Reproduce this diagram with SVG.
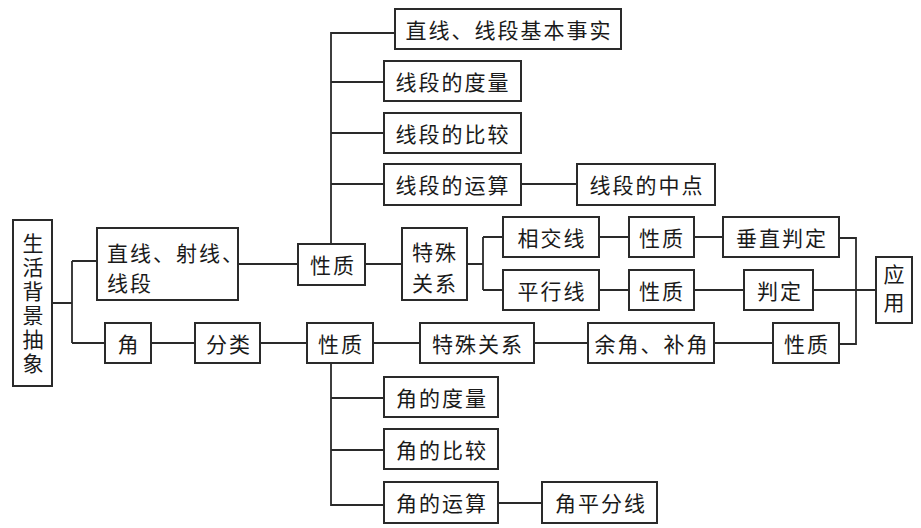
<svg xmlns="http://www.w3.org/2000/svg" width="921" height="528" viewBox="0 0 921 528">
<style>
.b{fill:#fff;stroke:#2a2a2a;stroke-width:2}
.t{font-family:"Noto Sans CJK SC","Noto Sans CJK JP",sans-serif;font-size:21px;fill:#1a1a1a;letter-spacing:2px;dominant-baseline:central;text-anchor:middle}
.tl{text-anchor:start}
.v{font-family:"Noto Sans CJK SC","Noto Sans CJK JP",sans-serif;font-size:21px;fill:#1a1a1a;writing-mode:vertical-rl;text-anchor:middle}
.c{fill:none;stroke:#2a2a2a;stroke-width:1.8}
</style>
<rect width="921" height="528" fill="#fff"/>
<g id="connectors" class="c">
<path d="M52,303H72M72,261V343M72,261H97M72,343H105"/>
<path d="M238,264H298"/>
<path d="M151,343H195M260,343H307"/>
<path d="M331,244V33H395M331,82H384M331,133H384M331,184H384"/>
<path d="M521,184H577"/>
<path d="M365,264H402M467,264H483M483,237V290M483,237H503M483,290H503"/>
<path d="M599,237H629M694,237H723M599,290H629M694,290H744M813,290H876"/>
<path d="M839,238H856V344H839"/>
<path d="M373,343H420M534,343H588M714,343H773"/>
<path d="M331,363V505H384M331,398H384M331,450H384"/>
<path d="M498,503H542"/>
</g>
<g id="n_root"><rect class="b" x="13" y="220" width="39" height="166"/>
<text class="v" x="33" y="305" style="letter-spacing:3px">生活背景抽象</text></g>
<g id="n_line"><rect class="b" x="97" y="228" width="141" height="72"/>
<text class="t tl"><tspan x="107" y="252">直线、射线、</tspan><tspan x="107" y="282">线段</tspan></text></g>
<g id="n_prop1"><rect class="b" x="298" y="244" width="67" height="41"/><text class="t" x="333" y="264">性质</text></g>
<g id="n_fact"><rect class="b" x="395" y="9" width="226" height="40"/><text class="t" x="509" y="29">直线、线段基本事实</text></g>
<g id="n_seg_measure"><rect class="b" x="384" y="61" width="137" height="40"/><text class="t" x="453" y="81">线段的度量</text></g>
<g id="n_seg_compare"><rect class="b" x="384" y="113" width="137" height="40"/><text class="t" x="453" y="133">线段的比较</text></g>
<g id="n_seg_op"><rect class="b" x="384" y="164" width="137" height="41"/><text class="t" x="453" y="184">线段的运算</text></g>
<g id="n_mid"><rect class="b" x="577" y="164" width="138" height="41"/><text class="t" x="647" y="184">线段的中点</text></g>
<g id="n_special1"><rect class="b" x="402" y="228" width="65" height="72"/>
<text class="t"><tspan x="435" y="251">特殊</tspan><tspan x="435" y="282">关系</tspan></text></g>
<g id="n_intersect"><rect class="b" x="503" y="217" width="96" height="40"/><text class="t" x="552" y="237">相交线</text></g>
<g id="n_prop_i"><rect class="b" x="629" y="217" width="65" height="40"/><text class="t" x="662" y="237">性质</text></g>
<g id="n_perp"><rect class="b" x="723" y="217" width="116" height="40"/><text class="t" x="782" y="237">垂直判定</text></g>
<g id="n_parallel"><rect class="b" x="503" y="270" width="96" height="40"/><text class="t" x="552" y="290">平行线</text></g>
<g id="n_prop_p"><rect class="b" x="629" y="270" width="65" height="40"/><text class="t" x="662" y="290">性质</text></g>
<g id="n_judge"><rect class="b" x="744" y="270" width="69" height="40"/><text class="t" x="780" y="290">判定</text></g>
<g id="n_apply"><rect class="b" x="876" y="257" width="36" height="66"/>
<text class="v" x="894" y="292" style="letter-spacing:7px">应用</text></g>
<g id="n_angle"><rect class="b" x="105" y="323" width="46" height="40"/><text class="t" x="129" y="343">角</text></g>
<g id="n_class"><rect class="b" x="195" y="323" width="65" height="40"/><text class="t" x="229" y="343">分类</text></g>
<g id="n_prop2"><rect class="b" x="307" y="323" width="66" height="40"/><text class="t" x="341" y="343">性质</text></g>
<g id="n_special2"><rect class="b" x="420" y="323" width="114" height="40"/><text class="t" x="478" y="343">特殊关系</text></g>
<g id="n_comp"><rect class="b" x="588" y="323" width="126" height="40"/><text class="t" x="652" y="343">余角、补角</text></g>
<g id="n_prop3"><rect class="b" x="773" y="323" width="66" height="40"/><text class="t" x="807" y="343">性质</text></g>
<g id="n_ang_measure"><rect class="b" x="384" y="377" width="114" height="40"/><text class="t" x="442" y="397">角的度量</text></g>
<g id="n_ang_compare"><rect class="b" x="384" y="429" width="114" height="40"/><text class="t" x="442" y="449">角的比较</text></g>
<g id="n_ang_op"><rect class="b" x="384" y="482" width="114" height="41"/><text class="t" x="442" y="502">角的运算</text></g>
<g id="n_bisector"><rect class="b" x="542" y="482" width="115" height="41"/><text class="t" x="601" y="502">角平分线</text></g>
</svg>
